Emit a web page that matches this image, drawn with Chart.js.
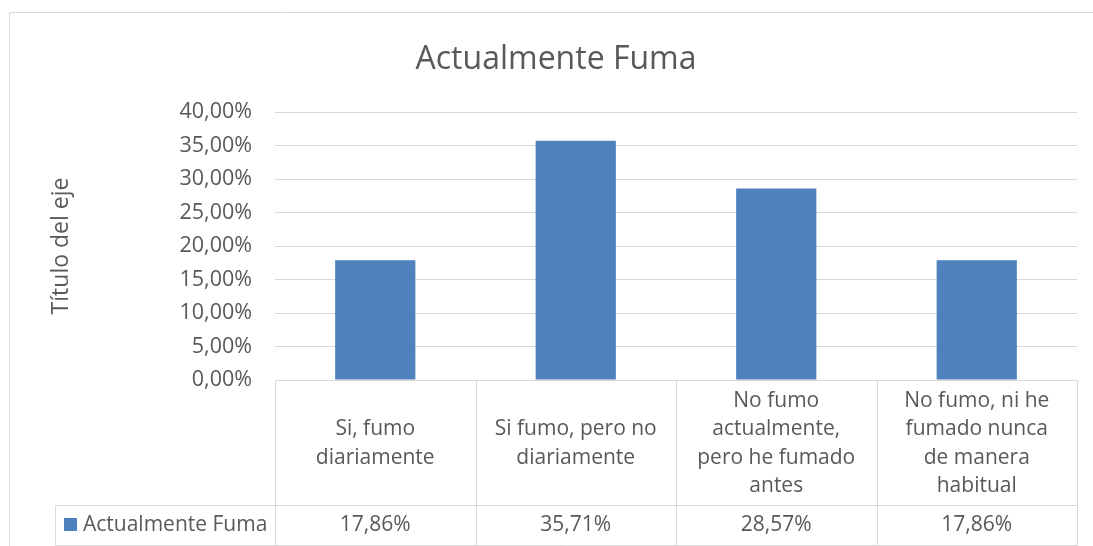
<!DOCTYPE html>
<html>
<head>
<meta charset="utf-8">
<script src="https://cdn.jsdelivr.net/npm/chart.js@4.4.1/dist/chart.umd.min.js"></script>
<style>
  html, body { margin: 0; padding: 0; background: #ffffff; }
  #wrap { width: 1093px; height: 546px; position: relative; }
</style>
</head>
<body>
<div id="wrap"><canvas id="c" width="1093" height="546"></canvas></div>
<script>
// ---- data ----
const chartTitle = "Actualmente Fuma";
const axisTitle = "Título del eje";
const seriesName = "Actualmente Fuma";
const categories = [
  ["Si, fumo", "diariamente"],
  ["Si fumo, pero no", "diariamente"],
  ["No fumo", "actualmente,", "pero he fumado", "antes"],
  ["No fumo, ni he", "fumado nunca", "de manera", "habitual"]
];
const values = [17.86, 35.71, 28.57, 17.86];
const yTicks = [0, 5, 10, 15, 20, 25, 30, 35, 40];

const fmt = v => v.toFixed(2).replace('.', ',') + '%';

const FONT = "'Open Sans', 'DejaVu Sans', sans-serif";
const TEXT = '#595959';
const GRID = '#d9d9d9';
const BAR = '#4f81bd';

const tablePlugin = {
  id: 'dataTable',
  afterDraw(chart) {
    const ctx = chart.ctx;
    const ca = chart.chartArea;
    const x = chart.scales.x;
    const n = categories.length;
    const half = (x.getPixelForValue(1) - x.getPixelForValue(0)) / 2;
    const edges = [];
    for (let i = 0; i < n; i++) edges.push(x.getPixelForValue(i) - half);
    edges.push(x.getPixelForValue(n - 1) + half);
    const top = ca.bottom;
    const rowSplit = 505;
    const bottom = 545;
    const legendLeft = 55;
    const al = v => Math.round(v) + 0.5;

    ctx.save();
    ctx.strokeStyle = GRID;
    ctx.lineWidth = 1;
    ctx.beginPath();
    // outer chart border (extends past canvas)
    ctx.moveTo(al(9), 1200); ctx.lineTo(al(9), al(12)); ctx.lineTo(1200, al(12));
    // table horizontals
    ctx.moveTo(al(edges[0]), al(top)); ctx.lineTo(al(edges[n]), al(top));
    ctx.moveTo(al(legendLeft), al(rowSplit)); ctx.lineTo(al(edges[n]), al(rowSplit));
    ctx.moveTo(al(legendLeft), al(bottom)); ctx.lineTo(al(edges[n]), al(bottom));
    // verticals
    ctx.moveTo(al(legendLeft), al(rowSplit)); ctx.lineTo(al(legendLeft), al(bottom));
    edges.forEach(e => { ctx.moveTo(al(e), al(top)); ctx.lineTo(al(e), al(bottom)); });
    ctx.stroke();

    ctx.fillStyle = TEXT;
    ctx.font = "21px " + FONT;
    ctx.textAlign = 'center';
    ctx.textBaseline = 'middle';
    const lh = 28.5;
    const midCat = (top + rowSplit) / 2 + 1;
    categories.forEach((lines, i) => {
      const cx = x.getPixelForValue(i);
      const y0 = midCat - (lines.length - 1) * lh / 2;
      lines.forEach((ln, j) => ctx.fillText(ln, cx, y0 + j * lh));
    });
    const midVal = (rowSplit + bottom) / 2;
    values.forEach((v, i) => ctx.fillText(fmt(v), x.getPixelForValue(i), midVal));

    // legend key
    const ds = chart.data.datasets[0];
    ctx.fillStyle = ds.backgroundColor;
    ctx.fillRect(64, midVal - 7, 13, 13);
    ctx.fillStyle = TEXT;
    ctx.textAlign = 'left';
    ctx.fillText(ds.label, 83, midVal);
    ctx.restore();
  }
};

new Chart(document.getElementById('c'), {
  type: 'bar',
  data: {
    labels: categories,
    datasets: [{
      label: seriesName,
      data: values,
      backgroundColor: BAR,
      borderWidth: 0,
      barPercentage: 0.4,
      categoryPercentage: 1.0
    }]
  },
  options: {
    responsive: false,
    animation: false,
    devicePixelRatio: 1,
    layout: { padding: { left: 35, right: 16, top: 0, bottom: 166 } },
    plugins: {
      legend: { display: false },
      tooltip: { enabled: false },
      title: {
        display: true,
        text: chartTitle,
        color: TEXT,
        font: { family: FONT, size: 32, weight: 'normal', lineHeight: 1.2 },
        padding: { top: 41, bottom: 32.6 }
      }
    },
    scales: {
      x: {
        display: false,
        offset: true
      },
      y: {
        min: 0,
        max: 40,
        afterBuildTicks(scale) { scale.ticks = yTicks.map(v => ({ value: v })); },
        afterFit(scale) { scale.width = 240; },
        border: { display: false },
        grid: { color: GRID, lineWidth: 1, drawTicks: false },
        ticks: {
          color: TEXT,
          padding: 23,
          font: { family: FONT, size: 21.5 },
          callback: v => fmt(v)
        },
        title: {
          display: true,
          text: axisTitle,
          color: TEXT,
          font: { family: FONT, size: 23 },
          padding: { top: 13, bottom: 0 }
        }
      }
    }
  },
  plugins: [tablePlugin]
});
</script>
</body>
</html>
